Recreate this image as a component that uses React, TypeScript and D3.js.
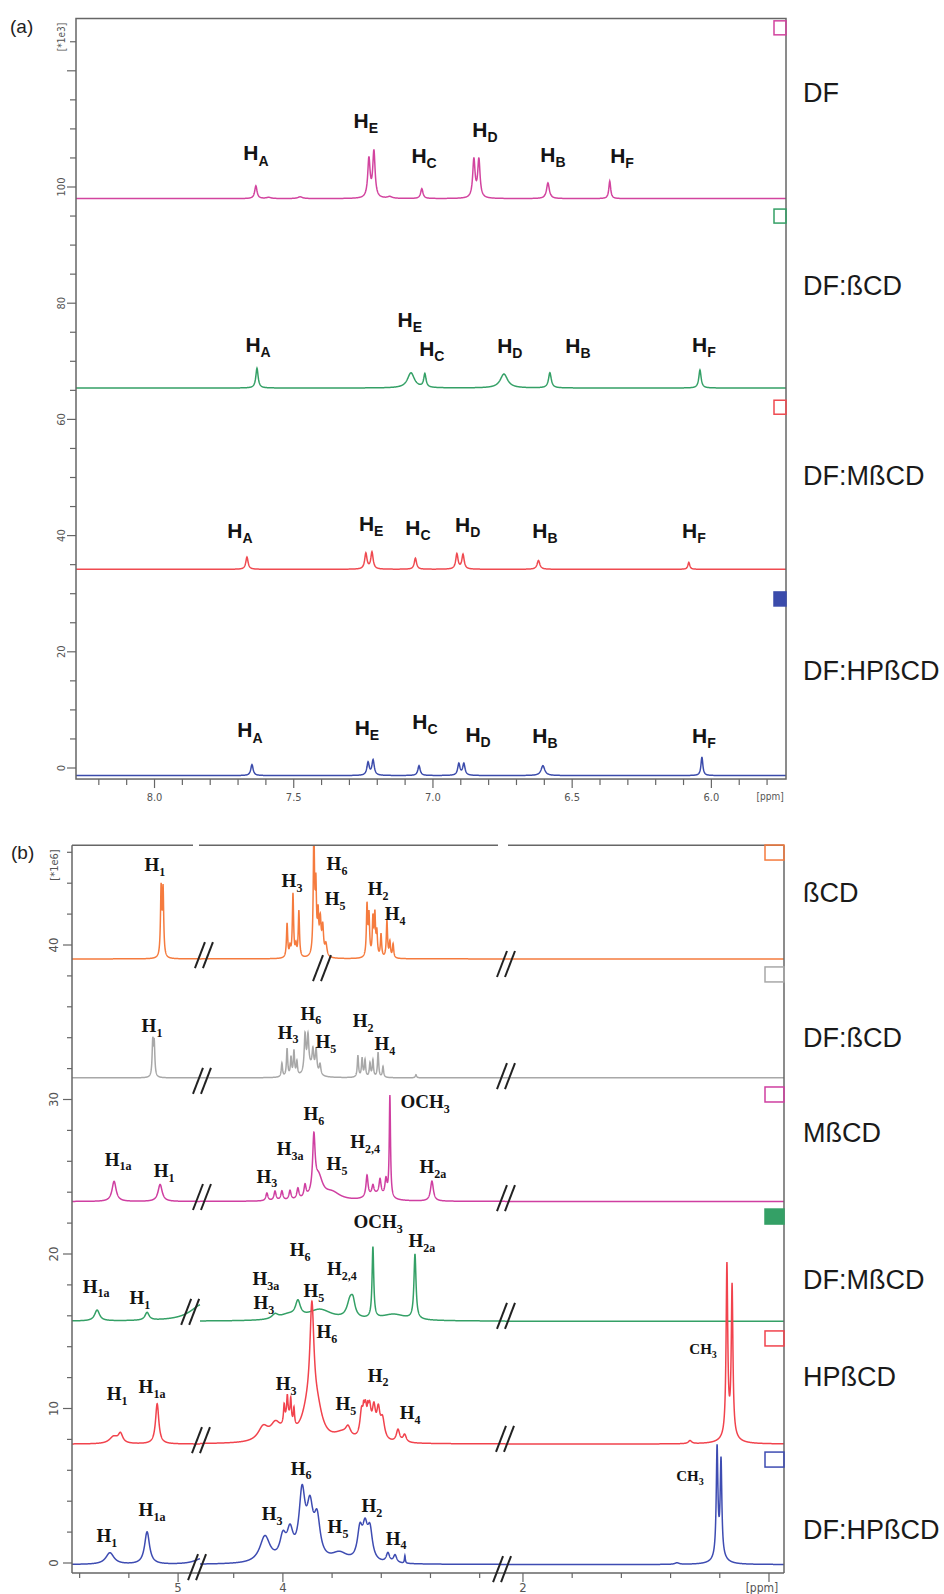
import React from 'react'
import * as d3 from 'd3'

type Peak = [number, number, number] // ppm, intensity, half width at half height (ppm)
type Label = [string, string, number, number] // main text, subscript, ppm, intensity

// ---------- panel (a): DF aromatic protons, intensity [*1e3] ----------
const aNames = ['DF', 'DF:ßCD', 'DF:MßCD', 'DF:HPßCD']
const aOffsets = [98.0, 65.4, 34.2, -1.3]
const aNameAt = [116.2, 83.0, 50.4, 16.7]
const aBoxAt = [128.6, 96.2, 63.3, 30.3]
const aXLabels = [8.0, 7.5, 7.0, 6.5, 6.0]
const aYLabels = [0, 20, 40, 60, 80, 100]

const dfPeaks: Peak[] = [
  [7.636, 2.2, 0.005], [7.59, 0.2, 0.01], [7.477, 0.3, 0.01], [7.230, 6.7, 0.005], [7.212, 8.0, 0.005],
  [7.155, 0.3, 0.01], [7.040, 1.7, 0.005], [6.853, 6.6, 0.005], [6.835, 6.6, 0.005], [6.587, 2.7, 0.006],
  [6.365, 3.0, 0.004],
]
const dfBcdPeaks: Peak[] = [
  [7.632, 3.4, 0.005], [7.079, 2.6, 0.015], [7.029, 2.3, 0.005], [6.745, 2.4, 0.016], [6.580, 2.6, 0.006],
  [6.041, 3.1, 0.005],
]
const dfMbcdPeaks: Peak[] = [
  [7.668, 2.1, 0.005], [7.241, 2.7, 0.005], [7.219, 2.9, 0.005], [7.063, 1.9, 0.005], [6.914, 2.6, 0.005],
  [6.892, 2.5, 0.005], [6.621, 1.5, 0.006], [6.081, 1.2, 0.004],
]
const dfHpbcdPeaks: Peak[] = [
  [7.650, 1.9, 0.005], [7.233, 2.2, 0.005], [7.215, 2.6, 0.005], [7.050, 1.7, 0.005], [6.907, 2.0, 0.005],
  [6.889, 2.0, 0.005], [6.605, 1.7, 0.008], [6.034, 3.2, 0.004],
]
const aPeaks = [dfPeaks, dfBcdPeaks, dfMbcdPeaks, dfHpbcdPeaks]

const aLabels: Label[][] = [
  [['H', 'A', 7.636, 104.6], ['H', 'E', 7.241, 110.2], ['H', 'C', 7.032, 104.1], ['H', 'D', 6.813, 108.6], ['H', 'B', 6.569, 104.3], ['H', 'F', 6.321, 104.1]],
  [['H', 'A', 7.628, 71.6], ['H', 'E', 7.083, 75.9], ['H', 'C', 7.004, 70.9], ['H', 'D', 6.724, 71.4], ['H', 'B', 6.479, 71.4], ['H', 'F', 6.027, 71.6]],
  [['H', 'A', 7.693, 39.6], ['H', 'E', 7.222, 40.8], ['H', 'C', 7.054, 40.1], ['H', 'D', 6.875, 40.6], ['H', 'B', 6.598, 39.6], ['H', 'F', 6.063, 39.6]],
  [['H', 'A', 7.657, 5.3], ['H', 'E', 7.237, 5.7], ['H', 'C', 7.029, 6.7], ['H', 'D', 6.838, 4.5], ['H', 'B', 6.598, 4.3], ['H', 'F', 6.027, 4.3]],
]

// ---------- panel (b): cyclodextrin protons, intensity [*1e6] ----------
const bNames = ['ßCD', 'DF:ßCD', 'MßCD', 'DF:MßCD', 'HPßCD', 'DF:HPßCD']
const bOffsets = [39.1, 31.4, 23.4, 15.65, 7.7, -0.1]
const bNameAt = [43.37, 33.98, 27.83, 18.32, 12.04, 2.14]
const bBoxAt = [46.47, 38.58, 30.81, 22.91, 15.02, 7.18]
const bSegments: [number, number][] = [[5.431, 4.911], [4.337, 3.097], [2.073, 0.939]]
const bXTicks = [5.4, 5.2, 5.0, 4.2, 4.0, 3.8, 3.6, 3.4, 3.2, 2.0, 1.8, 1.6, 1.4, 1.2, 1.0]
const bXLabels = [5, 4, 2]
const bYLabels = [0, 10, 20, 30, 40]

const bcdPeaks: Peak[] = [
  [5.069, 4.4, 0.003], [5.061, 4.3, 0.003],
  [3.983, 2.2, 0.003], [3.971, 0.6, 0.003], [3.959, 4.1, 0.003], [3.947, 0.7, 0.003], [3.935, 3.0, 0.003],
  [3.874, 8.0, 0.003], [3.866, 4.2, 0.003], [3.857, 2.4, 0.003], [3.848, 2.2, 0.004], [3.838, 1.8, 0.004], [3.825, 0.8, 0.005],
  [3.658, 3.3, 0.003], [3.650, 2.6, 0.003], [3.634, 2.4, 0.003], [3.626, 2.6, 0.003], [3.618, 1.5, 0.003],
  [3.601, 1.5, 0.003], [3.577, 2.4, 0.003], [3.565, 1.0, 0.003], [3.552, 0.9, 0.003],
]
const dfBcdBPeaks: Peak[] = [
  [5.103, 2.2, 0.003], [5.097, 2.1, 0.003],
  [4.004, 0.9, 0.003], [3.983, 1.8, 0.003], [3.967, 1.2, 0.003], [3.955, 1.6, 0.003], [3.943, 0.9, 0.003],
  [3.910, 2.4, 0.004], [3.898, 2.1, 0.004], [3.878, 1.3, 0.004], [3.865, 1.5, 0.004], [3.849, 0.7, 0.004], [3.89, 0.6, 0.02],
  [3.695, 1.4, 0.003], [3.678, 1.2, 0.003], [3.666, 1.1, 0.003], [3.646, 0.9, 0.003], [3.634, 1.1, 0.003],
  [3.613, 1.6, 0.003], [3.593, 0.7, 0.003], [3.459, 0.2, 0.003],
]
const mbcdPeaks: Peak[] = [
  [5.260, 1.3, 0.01], [5.073, 1.1, 0.01],
  [4.065, 0.5, 0.005], [4.032, 0.6, 0.005], [4.004, 0.6, 0.005], [3.971, 0.6, 0.005], [3.939, 0.7, 0.005], [3.910, 0.8, 0.005],
  [3.874, 3.6, 0.006], [3.855, 1.4, 0.02], [3.80, 0.5, 0.04],
  [3.658, 1.4, 0.005], [3.634, 0.6, 0.005], [3.605, 1.0, 0.005], [3.581, 1.1, 0.005], [3.62, 0.4, 0.04],
  [3.565, 6.6, 0.003], [3.394, 1.3, 0.007],
]
const dfMbcdBPeaks: Peak[] = [
  [5.329, 0.7, 0.012], [5.126, 0.5, 0.01], [4.90, 1.1, 0.06],
  [4.032, 0.3, 0.015], [3.98, 0.3, 0.04], [3.939, 1.0, 0.012], [3.85, 0.7, 0.06], [3.727, 1.1, 0.015], [3.715, 0.8, 0.01],
  [3.634, 4.6, 0.004], [3.55, 0.4, 0.06], [3.463, 4.2, 0.005],
]
const hpbcdPeaks: Peak[] = [
  [5.262, 0.45, 0.02], [5.234, 0.6, 0.011], [5.085, 2.6, 0.008],
  [4.08, 0.9, 0.025], [4.03, 1.0, 0.025], [3.98, 1.2, 0.02],
  [3.995, 1.1, 0.003], [3.982, 1.3, 0.003], [3.968, 1.4, 0.003], [3.955, 1.1, 0.003],
  [3.90, 1.6, 0.03], [3.882, 7.0, 0.010], [3.86, 1.6, 0.025], [3.76, 0.5, 0.04], [3.735, 0.6, 0.012],
  [3.680, 1.6, 0.008], [3.665, 1.8, 0.008], [3.648, 1.8, 0.008], [3.630, 1.8, 0.008], [3.612, 1.7, 0.008], [3.595, 1.3, 0.01],
  [3.672, 0.5, 0.002], [3.655, 0.5, 0.002], [3.532, 0.8, 0.008], [3.505, 0.5, 0.008],
  [1.321, 0.2, 0.008], [1.171, 11.0, 0.004], [1.150, 9.6, 0.004], [1.16, 0.5, 0.03],
]
const dfHpbcdBPeaks: Peak[] = [
  [5.277, 0.75, 0.02], [5.126, 2.1, 0.012], [4.90, 0.4, 0.04],
  [4.073, 1.7, 0.025], [4.000, 1.4, 0.015], [3.971, 1.7, 0.015], [3.922, 4.2, 0.015], [3.890, 3.0, 0.015], [3.861, 2.5, 0.015], [3.77, 0.6, 0.04],
  [3.687, 1.9, 0.012], [3.666, 1.9, 0.012], [3.646, 1.9, 0.012],
  [3.573, 0.6, 0.008], [3.544, 0.5, 0.008], [3.504, 0.5, 0.002],
  [1.374, 0.1, 0.01], [1.211, 7.0, 0.004], [1.195, 6.1, 0.004], [1.20, 0.5, 0.025],
]
const bPeaks = [bcdPeaks, dfBcdBPeaks, mbcdPeaks, dfMbcdBPeaks, hpbcdPeaks, dfHpbcdBPeaks]

const bLabels: Label[][] = [
  [['H', '1', 5.094, 44.79], ['H', '3', 3.963, 43.75], ['H', '6', 3.780, 44.85], ['H', '5', 3.788, 42.59], ['H', '2', 3.613, 43.24], ['H', '4', 3.544, 41.62]],
  [['H', '1', 5.106, 34.37], ['H', '3', 3.979, 33.92], ['H', '6', 3.886, 35.15], ['H', '5', 3.825, 33.33], ['H', '2', 3.674, 34.69], ['H', '4', 3.585, 33.20]],
  [['H', '1a', 5.244, 25.70], ['H', '1', 5.057, 24.98], ['H', '3', 4.065, 24.60], ['H', '3a', 3.971, 26.41], ['H', '6', 3.874, 28.67],
    ['H', '5', 3.780, 25.44], ['H', '2,4', 3.666, 26.86], ['OCH', '3', 3.422, 29.45], ['H', '2a', 3.390, 25.24]],
  [['H', '1a', 5.333, 17.48], ['H', '1', 5.155, 16.76], ['H', '3', 4.077, 16.44], ['H', '3a', 4.069, 17.99], ['H', '6', 3.930, 19.87],
    ['H', '5', 3.874, 17.22], ['H', '2,4', 3.760, 18.64], ['OCH', '3', 3.613, 21.68], ['H', '2a', 3.435, 20.45]],
  [['H', '1', 5.248, 10.55], ['H', '1a', 5.106, 11.00], ['H', '3', 3.987, 11.20], ['H', '6', 3.821, 14.56], ['H', '5', 3.744, 9.90],
    ['H', '2', 3.613, 11.72], ['H', '4', 3.483, 9.32], ['CH', '3', 1.268, 13.53]],
  [['H', '1', 5.289, 1.36], ['H', '1a', 5.106, 3.04], ['H', '3', 4.044, 2.78], ['H', '6', 3.926, 5.70], ['H', '5', 3.776, 1.94],
    ['H', '2', 3.638, 3.30], ['H', '4', 3.540, 1.17], ['CH', '3', 1.321, 5.31]],
]

// axis-break marks "//" (ppm, intensity)
const bBreaks: [number, number][] = [
  [4.321, 39.35], [3.841, 38.51], [2.069, 38.77],
  [4.329, 31.20], [2.069, 31.52],
  [4.329, 23.69], [2.069, 23.62],
  [4.951, 16.25], [2.069, 15.99],
  [4.333, 7.96], [2.073, 8.03],
  [4.923, -0.26], [3.109, -0.39],
]

const aColors = ['#d2449f', '#34a066', '#ef4a50', '#3b4bab']
const bColors = ['#f57b3e', '#a8a8a8', '#cf3fa1', '#34a066', '#f1434d', '#3e4cb2']

const sans = "'Liberation Sans', Arial, sans-serif"
const narrow = "'Liberation Sans Narrow', 'DejaVu Sans Condensed', 'Liberation Sans', sans-serif"
const serif = "'Liberation Serif', 'Times New Roman', serif"
const frameColor = '#666'

function spectrum(peaks: Peak[], base: number, hi: number, lo: number, step: number): [number, number][] {
  return d3.range(hi, lo - step / 2, -step).map(p => [
    p,
    base + d3.sum(peaks, ([c, h, w]) => h / (1 + ((p - c) / w) ** 2)),
  ])
}

function PeakLabel({ x, y, main, sub, family, size, subSize }: any) {
  return (
    <text x={x} y={y} textAnchor="middle" fontFamily={family} fontWeight="bold" fontSize={size} fill="#141414">
      {main}
      <tspan dy={subSize * 0.38} fontSize={subSize}>{sub}</tspan>
    </text>
  )
}

function BreakMark({ x, y }: { x: number; y: number }) {
  return (
    <g stroke="#222" strokeWidth={2}>
      <line x1={x - 9} y1={y + 13} x2={x + 1} y2={y - 13} />
      <line x1={x - 1} y1={y + 13} x2={x + 9} y2={y - 13} />
    </g>
  )
}

function PanelA() {
  const x = d3.scaleLinear().domain([8.282, 5.732]).range([76, 786])
  const y = d3.scaleLinear().domain([0, 100]).range([768, 187])
  const top = y(129), bottom = y(-1.9)
  const [left, right] = x.range()
  const line = d3.line<[number, number]>().x(d => x(d[0])).y(d => y(d[1]))
  const minorX = d3.range(58, 83).map(v => v / 10)
  const minorY = d3.range(0, 130, 5)
  return (
    <g>
      <text x={10} y={33} fontFamily={sans} fontSize={19} fill="#222">(a)</text>
      <defs>
        <clipPath id="clipA"><rect x={left} y={top} width={right - left} height={bottom - top} /></clipPath>
      </defs>
      <g clipPath="url(#clipA)" fill="none" strokeWidth={1.5}>
        {aPeaks.map((pk, i) => (
          <path key={i} d={line(spectrum(pk, aOffsets[i], 8.282, 5.732, 0.001)) || ''} stroke={aColors[i]} />
        ))}
      </g>
      <rect x={left} y={top} width={right - left} height={bottom - top} fill="none" stroke={frameColor} strokeWidth={1.5} />
      {minorY.map(v => (
        <line key={v} x1={left - (v % 20 === 0 ? 9 : 6)} x2={left} y1={y(v)} y2={y(v)} stroke={frameColor} strokeWidth={1.2} />
      ))}
      {aYLabels.map(v => (
        <text key={v} transform={`translate(65,${y(v)}) rotate(-90)`} textAnchor="middle" fontFamily={narrow} fontSize={11} fill="#555">{v}</text>
      ))}
      <text transform={`translate(65,37) rotate(-90)`} textAnchor="middle" fontFamily={narrow} fontSize={10} fill="#555">[*1e3]</text>
      {minorX.map(v => (
        <line key={v} x1={x(v)} x2={x(v)} y1={bottom} y2={bottom + (Math.round(v * 10) % 5 === 0 ? 9 : 6)} stroke={frameColor} strokeWidth={1.2} />
      ))}
      {aXLabels.map(v => (
        <text key={v} x={x(v)} y={801} textAnchor="middle" fontFamily={narrow} fontSize={11} fill="#555">{v.toFixed(1)}</text>
      ))}
      <text x={x(5.8) + 3} y={800} textAnchor="middle" fontFamily={narrow} fontSize={10} fill="#555">[ppm]</text>
      {aLabels.map((row, i) => row.map(([m, s, p, v], j) => (
        <PeakLabel key={`${i}-${j}`} x={x(p)} y={y(v)} main={m} sub={s} family={sans} size={21} subSize={14} />
      )))}
      {aNames.map((n, i) => (
        <g key={n}>
          <rect x={right - 12} y={y(aBoxAt[i])} width={12} height={14} fill={i === 3 ? aColors[i] : 'none'} stroke={aColors[i]} strokeWidth={1.5} />
          <text x={803} y={y(aNameAt[i])} dy="0.35em" fontFamily={sans} fontSize={27} fill="#1a1a1a">{n}</text>
        </g>
      ))}
    </g>
  )
}

function PanelB() {
  const x = d3.scaleLinear()
    .domain([5.431, 4.911, 4.337, 3.097, 2.073, 0.939])
    .range([72, 200, 200, 505, 505, 784])
  const y = d3.scaleLinear().domain([0, 40]).range([1563, 945])
  const top = y(46.45), bottom = y(-0.65)
  const left = 72, right = 784
  const line = d3.line<[number, number]>().x(d => x(d[0])).y(d => y(d[1]))
  const minorY = d3.range(0, 47, 2)
  const b1 = x(4.911), b2 = x(2.073)
  return (
    <g>
      <text x={11} y={859} fontFamily={sans} fontSize={19} fill="#222">(b)</text>
      <defs>
        <clipPath id="clipB"><rect x={left} y={top} width={right - left} height={bottom - top} /></clipPath>
      </defs>
      <g clipPath="url(#clipB)" fill="none" strokeWidth={1.5}>
        {bPeaks.map((pk, i) => bSegments.map(([hi, lo], k) => {
          const own = pk.filter(([c]) => c <= hi + 0.05 && c >= lo - 0.05)
          return <path key={`${i}-${k}`} d={line(spectrum(own, bOffsets[i], hi, lo, 0.0005)) || ''} stroke={bColors[i]} />
        }))}
      </g>
      <g stroke={frameColor} strokeWidth={1.5}>
        <line x1={left} x2={b1 - 7} y1={top} y2={top} />
        <line x1={b1 - 1} x2={b2 - 7} y1={top} y2={top} />
        <line x1={b2 + 3} x2={right} y1={top} y2={top} />
        <line x1={left} x2={left} y1={top} y2={bottom} />
        <line x1={right} x2={right} y1={top} y2={bottom} />
        <line x1={left} x2={right} y1={bottom} y2={bottom} />
      </g>
      {minorY.map(v => (
        <line key={v} x1={left - (v % 10 === 0 ? 9 : 5)} x2={left} y1={y(v)} y2={y(v)} stroke={frameColor} strokeWidth={1.2} />
      ))}
      {bYLabels.map(v => (
        <text key={v} transform={`translate(58,${y(v)}) rotate(-90)`} textAnchor="middle" fontFamily={narrow} fontSize={13} fill="#555">{v}</text>
      ))}
      <text transform={`translate(58,865) rotate(-90)`} textAnchor="middle" fontFamily={narrow} fontSize={11} fill="#555">[*1e6]</text>
      {bXTicks.map(v => (
        <line key={v} x1={x(v)} x2={x(v)} y1={bottom} y2={bottom + (Number.isInteger(v) ? 9 : 5)} stroke={frameColor} strokeWidth={1.2} />
      ))}
      {bXLabels.map(v => (
        <text key={v} x={x(v)} y={1592} textAnchor="middle" fontFamily={narrow} fontSize={13} fill="#555">{v}</text>
      ))}
      <text x={x(1.0) - 7} y={1592} textAnchor="middle" fontFamily={narrow} fontSize={12} fill="#555">[ppm]</text>
      {bBreaks.map(([p, v], i) => <BreakMark key={i} x={x(p)} y={y(v)} />)}
      {bLabels.map((row, i) => row.map(([m, s, p, v], j) => (
        <PeakLabel key={`${i}-${j}`} x={x(p)} y={y(v)} main={m} sub={s} family={serif}
          size={m === 'CH' ? 15 : 19} subSize={m === 'CH' ? 10 : 12} />
      )))}
      {bNames.map((n, i) => (
        <g key={n}>
          <rect x={right - 19} y={y(bBoxAt[i])} width={19} height={15} fill={i === 3 ? bColors[i] : 'none'} stroke={bColors[i]} strokeWidth={1.5} />
          <text x={803} y={y(bNameAt[i])} dy="0.35em" fontFamily={sans} fontSize={27} fill="#1a1a1a">{n}</text>
        </g>
      ))}
    </g>
  )
}

export default function App() {
  return (
    <div style={{ position: 'absolute', left: 0, top: 0 }}>
      <svg width={944} height={1594} style={{ display: 'block', background: '#fff' }}>
        <PanelA />
        <PanelB />
      </svg>
    </div>
  )
}
